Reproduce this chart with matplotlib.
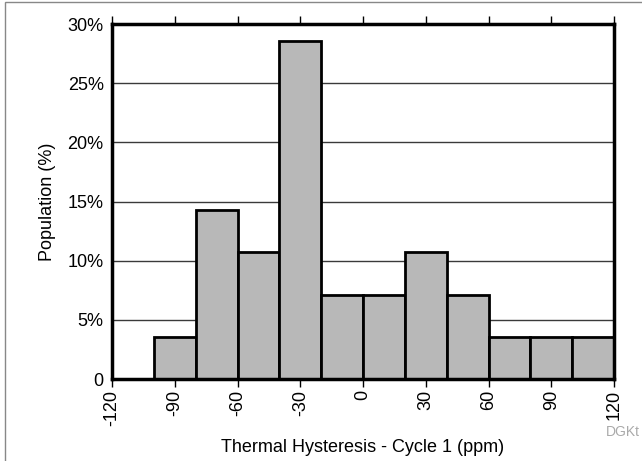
import matplotlib as mpl
import matplotlib.pyplot as plt
from matplotlib.patches import Rectangle

mpl.rcParams['font.family'] = ['Liberation Sans', 'DejaVu Sans']

# histogram data, bin left edges (ppm) and population (%)
bin_left = [-100, -80, -60, -40, -20, 0, 20, 40, 60, 80, 100]
population = [3.57, 14.29, 10.71, 28.57, 7.14, 7.14, 10.71, 7.14, 3.57, 3.57, 3.57]
bin_width = 20

x_ticks = [-120, -90, -60, -30, 0, 30, 60, 90, 120]
y_ticks = [0, 5, 10, 15, 20, 25, 30]
y_labels = ['0', '5%', '10%', '15%', '20%', '25%', '30%']

fig = plt.figure(figsize=(6.42, 4.61), dpi=100)
ax = fig.add_axes([112 / 642, 1 - 379 / 461, 502 / 642, 355 / 461])

# horizontal grid behind bars
for yv in y_ticks[1:-1]:
    ax.axhline(yv, color='#3a3a3a', lw=1.0, zorder=1)

ax.bar(bin_left, population, width=bin_width, align='edge',
       color='#b8b8b8', edgecolor='black', linewidth=2.0, zorder=2)

ax.set_xlim(-120, 120)
ax.set_ylim(0, 30)
ax.set_xticks(x_ticks)
ax.set_xticklabels([str(v) for v in x_ticks], rotation=90, fontsize=13)
ax.set_yticks(y_ticks)
ax.set_yticklabels(y_labels, fontsize=13)
ax.tick_params(axis='x', which='both', direction='out', length=6, width=1,
               top=True, bottom=True, pad=2)
ax.tick_params(axis='y', length=0, pad=6)

for s in ax.spines.values():
    s.set_linewidth(2.5)
    s.set_zorder(3)

ax.set_xlabel('Thermal Hysteresis - Cycle 1 (ppm)', fontsize=13, labelpad=9)
ax.set_ylabel('Population (%)', fontsize=13, labelpad=8)

# outer frame and watermark
fig.patches.append(Rectangle((5 / 642, -0.1), 1.2, 1.1 - 2 / 461,
                             transform=fig.transFigure, fill=False,
                             edgecolor='#888888', lw=1.0))
fig.text(640 / 642, 1 - 432 / 461, 'DGKt', color='#aaaaaa', fontsize=10,
         ha='right', va='center')

fig.savefig('out.png', dpi=100)
